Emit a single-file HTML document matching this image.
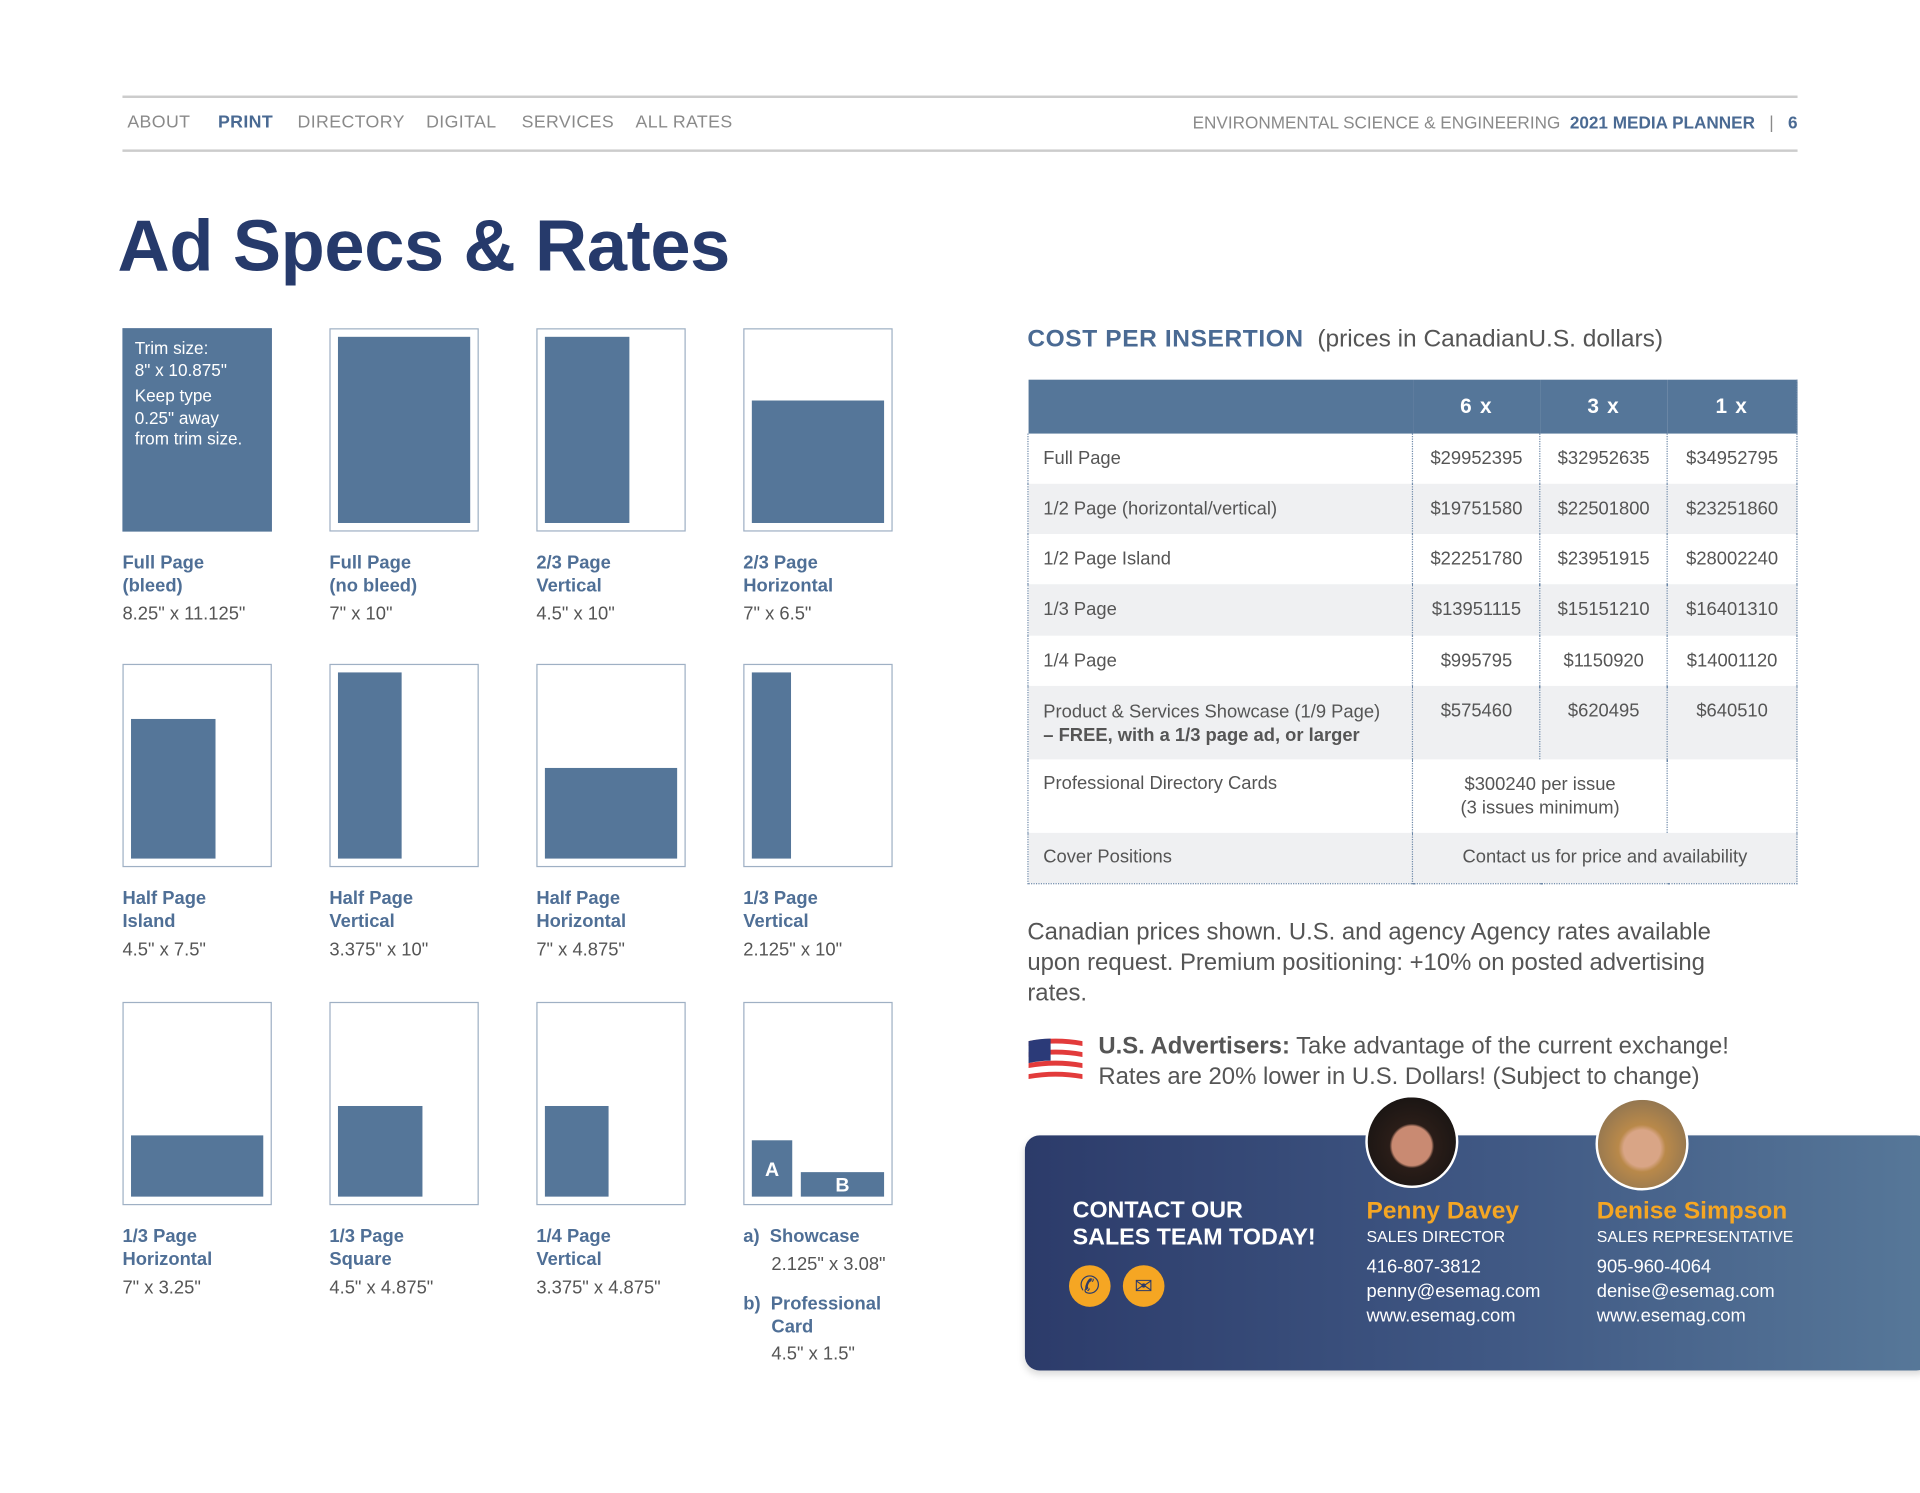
<!DOCTYPE html>
<html><head><meta charset="utf-8">
<style>
html,body{margin:0;padding:0;background:#fff;overflow:hidden}
body{width:1920px;height:1493px}
#w{position:absolute;left:0;top:0;width:1568px;height:1219px;transform:scale(1.22449,1.2248);transform-origin:0 0;font-family:"Liberation Sans",sans-serif;color:#444}
.a{position:absolute;white-space:nowrap}
.nav{top:92px;font-size:14.5px;color:#8a8a8a;letter-spacing:.3px}
.box{position:absolute;width:120px;height:164px;border:1px solid #9fb0c4;background:#fff}
.f{position:absolute;background:#557699}
.lb{position:absolute;font-size:15px;font-weight:bold;color:#4f6f96;line-height:19px}
.dm{position:absolute;font-size:15px;color:#555}
table{position:absolute;left:839px;top:310px;width:629px;border-collapse:collapse;font-size:15px;color:#555}
td{border-left:1.5px dotted #6d88a8;padding:0;vertical-align:top}
td.l{padding-left:12px}
td.n{text-align:center}
tr.g td{background:#eff0f2}
th{background:#557699;color:#fff;font-size:17px;height:42px;letter-spacing:1px}
</style></head><body>
<div id="w">
<div class="a" style="left:100px;top:78px;width:1368px;height:1.5px;background:#ccc"></div>
<div class="a" style="left:100px;top:122px;width:1368px;height:1.5px;background:#ccc"></div>
<div class="a nav" style="left:104px">ABOUT</div>
<div class="a nav" style="left:178px;color:#4a6a93;font-weight:bold">PRINT</div>
<div class="a nav" style="left:243px">DIRECTORY</div>
<div class="a nav" style="left:348px">DIGITAL</div>
<div class="a nav" style="left:426px">SERVICES</div>
<div class="a nav" style="left:519px">ALL RATES</div>
<div class="a nav" style="right:100px;font-size:14px;letter-spacing:0">ENVIRONMENTAL SCIENCE &amp; ENGINEERING&nbsp; <b style="color:#4a6a93">2021 MEDIA PLANNER</b> &nbsp;&nbsp;|&nbsp;&nbsp; <b style="color:#4a6a93">6</b></div>
<div class="a" style="left:96px;top:167px;font-size:59px;font-weight:bold;color:#263a6b;letter-spacing:-0.3px">Ad Specs &amp; Rates</div>

<!-- row 1 -->
<div class="box" style="left:100px;top:268px;background:#557699;border-color:#557699"></div>
<div class="a" style="left:110px;top:276px;color:#fff;font-size:14px;line-height:17.5px">Trim size:<br>8" x 10.875"<br><span style="display:block;height:4px"></span>Keep type<br>0.25" away<br>from trim size.</div>
<div class="box" style="left:269px;top:268px"><div class="f" style="left:6px;top:6px;width:108px;height:152px"></div></div>
<div class="box" style="left:438px;top:268px"><div class="f" style="left:6px;top:6px;width:69px;height:152px"></div></div>
<div class="box" style="left:607px;top:268px"><div class="f" style="left:6px;top:58px;width:108px;height:100px"></div></div>
<div class="lb" style="left:100px;top:450px">Full Page<br>(bleed)</div><div class="dm" style="left:100px;top:493px">8.25" x 11.125"</div>
<div class="lb" style="left:269px;top:450px">Full Page<br>(no bleed)</div><div class="dm" style="left:269px;top:493px">7" x 10"</div>
<div class="lb" style="left:438px;top:450px">2/3 Page<br>Vertical</div><div class="dm" style="left:438px;top:493px">4.5" x 10"</div>
<div class="lb" style="left:607px;top:450px">2/3 Page<br>Horizontal</div><div class="dm" style="left:607px;top:493px">7" x 6.5"</div>

<!-- row 2 -->
<div class="box" style="left:100px;top:542px"><div class="f" style="left:6px;top:44px;width:69px;height:114px"></div></div>
<div class="box" style="left:269px;top:542px"><div class="f" style="left:6px;top:6px;width:52px;height:152px"></div></div>
<div class="box" style="left:438px;top:542px"><div class="f" style="left:6px;top:84px;width:108px;height:74px"></div></div>
<div class="box" style="left:607px;top:542px"><div class="f" style="left:6px;top:6px;width:32px;height:152px"></div></div>
<div class="lb" style="left:100px;top:724px">Half Page<br>Island</div><div class="dm" style="left:100px;top:767px">4.5" x 7.5"</div>
<div class="lb" style="left:269px;top:724px">Half Page<br>Vertical</div><div class="dm" style="left:269px;top:767px">3.375" x 10"</div>
<div class="lb" style="left:438px;top:724px">Half Page<br>Horizontal</div><div class="dm" style="left:438px;top:767px">7" x 4.875"</div>
<div class="lb" style="left:607px;top:724px">1/3 Page<br>Vertical</div><div class="dm" style="left:607px;top:767px">2.125" x 10"</div>

<!-- row 3 -->
<div class="box" style="left:100px;top:818px"><div class="f" style="left:6px;top:108px;width:108px;height:50px"></div></div>
<div class="box" style="left:269px;top:818px"><div class="f" style="left:6px;top:84px;width:69px;height:74px"></div></div>
<div class="box" style="left:438px;top:818px"><div class="f" style="left:6px;top:84px;width:52px;height:74px"></div></div>
<div class="box" style="left:607px;top:818px"><div class="f" style="left:6px;top:112px;width:33px;height:46px;color:#fff;font-weight:bold;font-size:16px;text-align:center;line-height:50px">A</div><div class="f" style="left:46px;top:138px;width:68px;height:20px;color:#fff;font-weight:bold;font-size:16px;text-align:center;line-height:24px">B</div></div>
<div class="lb" style="left:100px;top:1000px">1/3 Page<br>Horizontal</div><div class="dm" style="left:100px;top:1043px">7" x 3.25"</div>
<div class="lb" style="left:269px;top:1000px">1/3 Page<br>Square</div><div class="dm" style="left:269px;top:1043px">4.5" x 4.875"</div>
<div class="lb" style="left:438px;top:1000px">1/4 Page<br>Vertical</div><div class="dm" style="left:438px;top:1043px">3.375" x 4.875"</div>
<div class="lb" style="left:607px;top:1000px">a)&nbsp; Showcase</div><div class="dm" style="left:630px;top:1024px">2.125" x 3.08"</div>
<div class="lb" style="left:607px;top:1055px">b)&nbsp; Professional<br><span style="padding-left:23px">Card</span></div><div class="dm" style="left:630px;top:1097px">4.5" x 1.5"</div>

<!-- cost table -->
<div class="a" style="left:839px;top:266px;font-size:20px;color:#555"><b style="color:#4a6a93;letter-spacing:.5px">COST PER INSERTION</b>&nbsp; (prices in CanadianU.S. dollars)</div>
<table style="border-bottom:1.5px dotted #6d88a8;border-right:1.5px dotted #6d88a8">
<colgroup><col style="width:315px"><col style="width:104px"><col style="width:104px"><col style="width:106px"></colgroup>
<tr><th style="border:0"></th><th style="border:0">6 x</th><th style="border:0">3 x</th><th style="border:0">1 x</th></tr>
<tr style="height:41px"><td class="l" style="padding-top:12px">Full Page</td><td class="n" style="padding-top:12px">$29952395</td><td class="n" style="padding-top:12px">$32952635</td><td class="n" style="padding-top:12px">$34952795</td></tr>
<tr class="g" style="height:41px"><td class="l" style="padding-top:12px">1/2 Page (horizontal/vertical)</td><td class="n" style="padding-top:12px">$19751580</td><td class="n" style="padding-top:12px">$22501800</td><td class="n" style="padding-top:12px">$23251860</td></tr>
<tr style="height:41px"><td class="l" style="padding-top:12px">1/2 Page Island</td><td class="n" style="padding-top:12px">$22251780</td><td class="n" style="padding-top:12px">$23951915</td><td class="n" style="padding-top:12px">$28002240</td></tr>
<tr class="g" style="height:42px"><td class="l" style="padding-top:12px">1/3 Page</td><td class="n" style="padding-top:12px">$13951115</td><td class="n" style="padding-top:12px">$15151210</td><td class="n" style="padding-top:12px">$16401310</td></tr>
<tr style="height:41px"><td class="l" style="padding-top:12px">1/4 Page</td><td class="n" style="padding-top:12px">$995795</td><td class="n" style="padding-top:12px">$1150920</td><td class="n" style="padding-top:12px">$14001120</td></tr>
<tr class="g" style="height:60px"><td class="l" style="padding-top:12px;line-height:19px">Product &amp; Services Showcase (1/9 Page)<br><b>– FREE, with a 1/3 page ad, or larger</b></td><td class="n" style="padding-top:12px">$575460</td><td class="n" style="padding-top:12px">$620495</td><td class="n" style="padding-top:12px">$640510</td></tr>
<tr style="height:60px"><td class="l" style="padding-top:11px">Professional Directory Cards</td><td class="n" colspan="2" style="padding-top:11px;line-height:19px">$300240 per issue<br>(3 issues minimum)</td><td></td></tr>
<tr class="g" style="height:41px"><td class="l" style="padding-top:11px">Cover Positions</td><td class="n" colspan="3" style="padding-top:11px">Contact us for price and availability</td></tr>
</table>
<div class="a" style="left:839px;top:749px;font-size:19.5px;line-height:25px;color:#555;white-space:normal;width:595px">Canadian prices shown. U.S. and agency Agency rates available upon request. Premium positioning: +10% on posted advertising rates.</div>
<svg class="a" style="left:838px;top:846px" width="48" height="38" viewBox="0 0 48 38">
<g fill="#e23b3b"><path d="M2 4 Q24 0 46 4 V8 Q24 4 2 8Z"/><path d="M2 13 Q24 9 46 13 V17 Q24 13 2 17Z"/><path d="M2 22 Q24 18 46 22 V26 Q24 22 2 26Z"/><path d="M2 31 Q24 27 46 31 V35 Q24 31 2 35Z"/></g>
<path d="M2 4 Q11 2 20 2 V20 Q11 20 2 22Z" fill="#2b3a78"/></svg>
<div class="a" style="left:897px;top:842px;font-size:19.5px;line-height:25px;color:#555"><b>U.S. Advertisers:</b> Take advantage of the current exchange!<br>Rates are 20% lower in U.S. Dollars! (Subject to change)</div>

<!-- contact panel -->
<div class="a" style="left:837px;top:927px;width:740px;height:192px;border-radius:12px;background:linear-gradient(90deg,#2c3b6a,#3f5783 50%,#577899);box-shadow:0 3px 6px rgba(0,0,0,.15)"></div>
<div class="a" style="left:876px;top:978px;font-size:19px;line-height:22px;font-weight:bold;color:#fff">CONTACT OUR<br>SALES TEAM TODAY!</div>
<div class="a" style="left:873px;top:1033px;width:34px;height:34px;border-radius:50%;background:#f5a623;color:#2c3b6a;font-size:20px;text-align:center;line-height:34px">✆</div>
<div class="a" style="left:917px;top:1033px;width:34px;height:34px;border-radius:50%;background:#f5a623;color:#2c3b6a;font-size:18px;text-align:center;line-height:34px">✉</div>
<div class="a" style="left:1115px;top:894px;width:72px;height:72px;border-radius:50%;border:2px solid #fff;background:radial-gradient(circle at 50% 55%,#c98a72 0 30%,#2a1d18 34%,#111 100%)"></div>
<div class="a" style="left:1303px;top:896px;width:72px;height:72px;border-radius:50%;border:2px solid #fff;background:radial-gradient(circle at 50% 55%,#d9a586 0 28%,#b9894a 36%,#7a6a55 100%)"></div>
<div class="a" style="left:1116px;top:977px;color:#fff;font-size:15px;line-height:20px"><div style="color:#f5a623;font-weight:bold;font-size:20px;line-height:24px">Penny Davey</div><div style="font-size:13px;line-height:18px">SALES DIRECTOR</div><div style="margin-top:6px">416-807-3812</div><div>penny@esemag.com</div><div>www.esemag.com</div></div>
<div class="a" style="left:1304px;top:977px;color:#fff;font-size:15px;line-height:20px"><div style="color:#f5a623;font-weight:bold;font-size:20px;line-height:24px">Denise Simpson</div><div style="font-size:13px;line-height:18px">SALES REPRESENTATIVE</div><div style="margin-top:6px">905-960-4064</div><div>denise@esemag.com</div><div>www.esemag.com</div></div>
</div>
</body></html>
